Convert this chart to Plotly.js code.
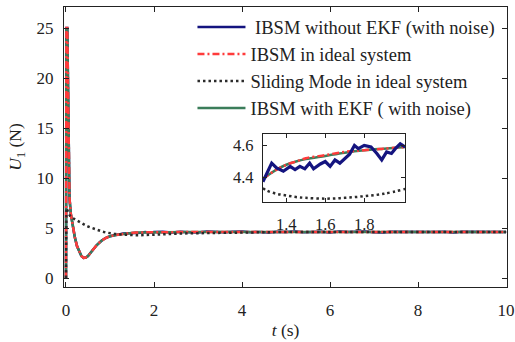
<!DOCTYPE html>
<html>
<head>
<meta charset="utf-8">
<script src="https://cdn.plot.ly/plotly-3.0.1.min.js"></script>
<style>html,body{margin:0;padding:0;background:#fff;}#chart{width:515px;height:342px;}</style>
</head>
<body>
<div id="chart"></div>
<script>
// ---- main plot data ----
const tMain = [0, 0.01, 0.03, 0.045, 0.06, 0.08, 0.11, 0.15, 0.2, 0.25,
  0.3, 0.35, 0.4, 0.45, 0.5, 0.6, 0.7, 0.8, 0.9, 1.0,
  1.1, 1.2, 1.3, 1.4, 1.5, 1.6, 1.7, 1.8, 1.9,
  2.0, 2.2, 2.4, 2.6, 2.8, 3.0, 3.2, 3.4, 3.6, 3.8,
  4.0, 4.2, 4.4, 4.6, 4.8, 5.0, 5.2, 5.4, 5.6, 5.8,
  6.0, 6.2, 6.4, 6.6, 6.8, 7.0, 7.2, 7.4, 7.6, 7.8,
  8.0, 8.2, 8.4, 8.6, 8.8, 9.0, 9.2, 9.4, 9.6, 9.8, 10.0];

const ibsmNoEkf = [0, 25, 25, 18, 11.5, 8, 6.4, 5.3, 4.1, 3.2,
  2.6, 2.2, 2.0, 2.05, 2.2, 2.75, 3.3, 3.7, 4.0, 4.18,
  4.3, 4.36, 4.44, 4.45, 4.46, 4.50, 4.52, 4.60, 4.52,
  4.59, 4.62, 4.56, 4.63, 4.58, 4.55, 4.64, 4.60, 4.57, 4.62,
  4.66, 4.58, 4.61, 4.55, 4.63, 4.60, 4.65, 4.57, 4.60, 4.62,
  4.56, 4.64, 4.59, 4.61, 4.66, 4.58, 4.55, 4.62, 4.60, 4.64,
  4.57, 4.61, 4.59, 4.63, 4.56, 4.62, 4.60, 4.58, 4.63, 4.61, 4.59];

const ibsmIdeal = [0, 25, 25, 18, 11.5, 8, 6.4, 5.3, 4.1, 3.2,
  2.6, 2.2, 2.0, 2.05, 2.2, 2.75, 3.3, 3.7, 4.0, 4.18,
  4.29, 4.35, 4.41, 4.47, 4.51, 4.54, 4.56, 4.57, 4.58,
  4.59, 4.60, 4.60, 4.60, 4.60, 4.60, 4.60, 4.60, 4.60, 4.60,
  4.60, 4.60, 4.60, 4.60, 4.60, 4.60, 4.60, 4.60, 4.60, 4.60,
  4.60, 4.60, 4.60, 4.60, 4.60, 4.60, 4.60, 4.60, 4.60, 4.60,
  4.60, 4.60, 4.60, 4.60, 4.60, 4.60, 4.60, 4.60, 4.60, 4.60, 4.60];

const slidingIdeal = [0, 7.0, 6.8, 6.6, 6.5, 6.3, 6.1, 6.0, 5.8, 5.7,
  5.55, 5.45, 5.35, 5.25, 5.15, 4.98, 4.83, 4.68, 4.56, 4.47,
  4.41, 4.37, 4.33, 4.29, 4.28, 4.27, 4.28, 4.29, 4.31,
  4.33, 4.37, 4.41, 4.44, 4.47, 4.49, 4.51, 4.53, 4.54, 4.55,
  4.56, 4.57, 4.58, 4.58, 4.59, 4.59, 4.59, 4.60, 4.60, 4.60,
  4.60, 4.60, 4.60, 4.60, 4.60, 4.60, 4.60, 4.60, 4.60, 4.60,
  4.60, 4.60, 4.60, 4.60, 4.60, 4.60, 4.60, 4.60, 4.60, 4.60, 4.60];

const ibsmEkf = [0, 24.8, 24.8, 18, 11.5, 8, 6.4, 5.3, 4.1, 3.2,
  2.6, 2.2, 2.0, 2.05, 2.2, 2.75, 3.3, 3.7, 4.0, 4.18,
  4.29, 4.35, 4.41, 4.47, 4.51, 4.54, 4.56, 4.57, 4.58,
  4.59, 4.60, 4.60, 4.61, 4.60, 4.59, 4.60, 4.61, 4.60, 4.60,
  4.60, 4.61, 4.60, 4.59, 4.60, 4.60, 4.61, 4.60, 4.60, 4.59,
  4.60, 4.60, 4.61, 4.60, 4.60, 4.60, 4.59, 4.60, 4.61, 4.60,
  4.60, 4.60, 4.59, 4.60, 4.61, 4.60, 4.60, 4.60, 4.60, 4.61, 4.60];

// ---- inset data (zoom 1.28 - 2.01 s) ----
const tInsetNoisy = [1.28, 1.30, 1.325, 1.35, 1.385, 1.42, 1.445, 1.47, 1.495, 1.52,
  1.54, 1.575, 1.60, 1.625, 1.65, 1.675, 1.70, 1.725, 1.75, 1.77,
  1.80, 1.835, 1.865, 1.89, 1.915, 1.94, 1.96, 1.985, 2.01];
const insetNoEkf = [4.375, 4.43, 4.49, 4.46, 4.44, 4.47, 4.45, 4.47, 4.455, 4.49,
  4.455, 4.485, 4.50, 4.47, 4.51, 4.49, 4.52, 4.545, 4.60, 4.58,
  4.60, 4.59, 4.55, 4.51, 4.56, 4.55, 4.58, 4.61, 4.59];
const tInset = [1.28, 1.30, 1.35, 1.40, 1.45, 1.50, 1.60, 1.70, 1.80, 1.90, 2.01];
const insetIdeal = [4.39, 4.41, 4.45, 4.48, 4.50, 4.52, 4.54, 4.56, 4.57, 4.58, 4.59];
const insetEkf = [4.39, 4.41, 4.45, 4.48, 4.50, 4.515, 4.535, 4.555, 4.57, 4.58, 4.59];
const insetSliding = [4.335, 4.32, 4.30, 4.29, 4.28, 4.275, 4.27, 4.275, 4.285, 4.30, 4.33];

const names = ['\u00a0IBSM without EKF (with noise)', 'IBSM in ideal system',
  'Sliding Mode in ideal system', 'IBSM with EKF ( with noise)'];
const xTicks = [0, 2, 4, 6, 8, 10];
const yTicks = [0, 5, 10, 15, 20, 25];
const xTicksInset = [1.4, 1.6, 1.8];
const yTicksInset = [4.4, 4.6];

const cBlue = '#14147f', cRed = '#ff3b3b', cDot = '#2b2b2b', cGreen = '#3b7d5a';
const blueLine = {color: cBlue, width: 2.5};
const redLine = {color: cRed, width: 2.5, dash: '7px,3px,2px,3px'};
const dotLine = {color: cDot, width: 2.5, dash: '2.5px,3px'};
const greenLine = {color: cGreen, width: 2.5};

const traces = [
  {x: tMain, y: ibsmNoEkf, name: names[0], mode: 'lines', line: blueLine},
  {x: tMain, y: ibsmEkf, name: names[3], mode: 'lines', line: greenLine, showlegend: false, legendgroup: 'g'},
  {x: tMain, y: ibsmIdeal, name: names[1], mode: 'lines', line: redLine},
  {x: tMain, y: slidingIdeal, name: names[2], mode: 'lines', line: dotLine},
  {x: [null], y: [null], name: names[3], mode: 'lines', line: greenLine, legendgroup: 'g'},
  // inset
  {x: tInset, y: insetSliding, xaxis: 'x2', yaxis: 'y2', mode: 'lines', line: Object.assign({shape: 'spline'}, dotLine), showlegend: false},
  {x: tInset, y: insetEkf, xaxis: 'x2', yaxis: 'y2', mode: 'lines', line: Object.assign({shape: 'spline'}, greenLine), showlegend: false},
  {x: tInset, y: insetIdeal, xaxis: 'x2', yaxis: 'y2', mode: 'lines', line: Object.assign({shape: 'spline'}, redLine), showlegend: false},
  {x: tInsetNoisy, y: insetNoEkf, xaxis: 'x2', yaxis: 'y2', mode: 'lines', line: {color: cBlue, width: 3.2}, showlegend: false}
];

const SERIF = 'Liberation Serif';
function F(size) { return {family: SERIF, size: size, color: '#222'}; }
function ax(extra) {
  return Object.assign({
    showline: true, linecolor: '#222', linewidth: 1, mirror: 'ticks',
    ticks: 'inside', ticklen: 5, tickcolor: '#222', tickwidth: 1,
    showgrid: false, zeroline: false, tickfont: F(17)
  }, extra);
}

const layout = {
  width: 515, height: 342,
  margin: {l: 64, r: 8, t: 7, b: 55},
  paper_bgcolor: '#fff', plot_bgcolor: '#fff',
  font: F(17),
  xaxis: ax({
    range: [-0.045, 10.02], tickvals: xTicks, ticklabelstandoff: 8,
    title: {text: '<i>t</i> (s)', font: F(17.5), standoff: 4}
  }),
  yaxis: ax({
    range: [-0.9, 27.1], tickvals: yTicks, ticklabelstandoff: 6,
    title: {text: '<i>U</i><sub>1</sub> (N)', font: F(17.5), standoff: 10}
  }),
  xaxis2: ax({
    anchor: 'y2', domain: [0.449, 0.770], range: [1.28, 2.01],
    tickvals: xTicksInset, ticklen: 4, ticklabelstandoff: 7, tickfont: F(16.5)
  }),
  yaxis2: ax({
    anchor: 'x2', domain: [0.304, 0.546], range: [4.25, 4.67],
    tickvals: yTicksInset, ticklen: 4, ticklabelstandoff: 5, tickfont: F(16.5)
  }),
  showlegend: true,
  legend: {
    x: 0.29, y: 0.995, xanchor: 'left', yanchor: 'top',
    bgcolor: 'rgba(255,255,255,0)', borderwidth: 0,
    font: F(18.5), tracegroupgap: 0, itemwidth: 48,
    traceorder: 'normal'
  }
};

Plotly.newPlot('chart', traces, layout, {displayModeBar: false, staticPlot: true});
</script>
</body>
</html>
